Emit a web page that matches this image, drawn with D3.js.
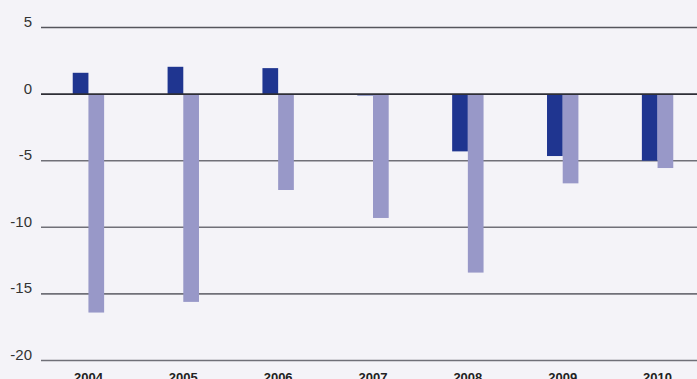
<!DOCTYPE html>
<html>
<head>
<meta charset="utf-8">
<script src="https://cdn.jsdelivr.net/npm/d3@7/dist/d3.min.js"></script>
<style>
  html, body { margin: 0; padding: 0; background: #f4f3f8; }
  svg { display: block; font-family: "Liberation Sans", Arial, sans-serif; }
</style>
</head>
<body>
<svg id="chart" width="697" height="379"></svg>
<script>
// Annual balances, 2004–2010
const years = ["2004", "2005", "2006", "2007", "2008", "2009", "2010"];
const seriesA = [1.6, 2.05, 1.95, -0.1, -4.3, -4.65, -5.0];
const seriesB = [-16.4, -15.6, -7.2, -9.3, -13.4, -6.7, -5.55];
const yTicks = [5, 0, -5, -10, -15, -20];

const colorA = "#1f3590";
const colorB = "#9898c8";

const svg = d3.select("#chart");
const W = 697, H = 379;

const x = d3.scaleBand().domain(years).range([41, 705]).paddingInner(0).paddingOuter(0);
const y = d3.scaleLinear().domain([-20, 5]).range([360.5, 27.5]);

const barW = 15.7;

// horizontal gridlines
svg.append("g").selectAll("line")
  .data(yTicks.filter(d => d !== 0))
  .join("line")
  .attr("x1", 41).attr("x2", W)
  .attr("y1", d => y(d)).attr("y2", d => y(d))
  .attr("stroke", d => d === 5 ? "#55555c" : "#707078")
  .attr("stroke-width", 1.6);

// y tick labels
svg.append("g").selectAll("text")
  .data(yTicks)
  .join("text")
  .attr("x", 32)
  .attr("y", d => y(d) - 0.5)
  .attr("text-anchor", "end")
  .attr("font-size", 15)
  .attr("fill", "#333")
  .text(d => d);

const groups = svg.append("g").selectAll("g")
  .data(years)
  .join("g")
  .attr("transform", d => `translate(${x(d) + x.bandwidth() / 2},0)`);

groups.append("rect")
  .attr("x", -barW)
  .attr("width", barW)
  .attr("y", (d, i) => y(Math.max(0, seriesA[i])))
  .attr("height", (d, i) => Math.abs(y(seriesA[i]) - y(0)))
  .attr("fill", colorA);

groups.append("rect")
  .attr("x", 0)
  .attr("width", barW)
  .attr("y", (d, i) => y(Math.max(0, seriesB[i])))
  .attr("height", (d, i) => Math.abs(y(seriesB[i]) - y(0)))
  .attr("fill", colorB);

// zero line drawn over the bars
svg.append("line")
  .attr("x1", 41).attr("x2", W)
  .attr("y1", y(0)).attr("y2", y(0))
  .attr("stroke", "#2e2e36")
  .attr("stroke-width", 1.6);

// year labels
svg.append("g").selectAll("text")
  .data(years)
  .join("text")
  .attr("x", d => x(d) + x.bandwidth() / 2)
  .attr("y", 382)
  .attr("text-anchor", "middle")
  .attr("font-size", 13)
  .attr("font-weight", "bold")
  .attr("fill", "#222")
  .text(d => d);
</script>
</body>
</html>
